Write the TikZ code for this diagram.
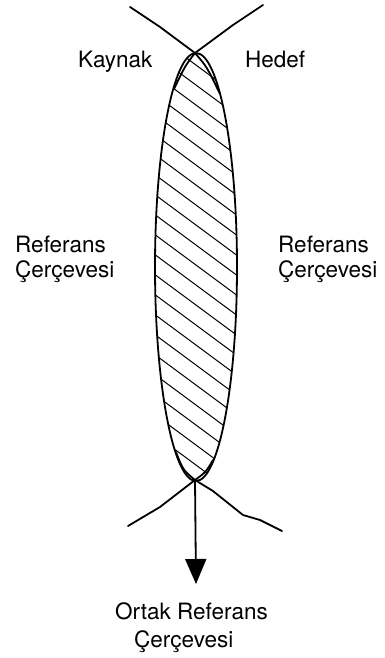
\documentclass[tikz,border=0pt]{standalone}
\usepackage{fontspec}
\setmainfont{TeX Gyre Heros}
\usetikzlibrary{arrows.meta}
\tikzset{
  lbl/.style={anchor=base west, inner sep=0pt, font=\fontsize{22.5}{27}\selectfont},
  edge/.style={line width=1.8pt, line join=round, line cap=round},
  hatch/.style={line width=1pt}
}
\begin{document}
\begin{tikzpicture}[x=1pt,y=-1pt]
\useasboundingbox (0,0) rectangle (385,658);
% key points
\coordinate (top) at (195,53);
\coordinate (bot) at (195,480);
\coordinate (ctr) at (196,267);
\coordinate (tip) at (196,584);
\coordinate (tl) at (130,7);
\coordinate (tr) at (263,5);
\coordinate (bl) at (128,526);
\coordinate (br) at (282,531);
% hatching
\begin{scope}
  \clip (ctr) ellipse [x radius=41, y radius=214];
  \foreach \c in {-140,-120,...,400}
    \draw[hatch] (150,{\c+0.74*150}) -- (245,{\c+0.74*245});
\end{scope}
% ellipse
\draw[edge] (ctr) ellipse [x radius=41, y radius=214];
% doubled pointed edges near the tips
\draw[edge] (top) .. controls (185,66) .. (174,89);
\draw[edge] (top) .. controls (207,67) .. (220,94);
\draw[edge] (bot) .. controls (183,470) .. (176,452);
\draw[edge] (bot) .. controls (206,472) .. (213,460);
% crossing lines
\draw[edge] (tl) -- (160,27) -- (top);
\draw[edge] (tr) -- (233,25) -- (top);
\draw[edge] (bl) -- (160,507) -- (bot);
\draw[edge] (br) -- (260,520) -- (243,515) -- (213,491) -- (bot);
% arrow
\draw[edge, -{Triangle[length=25pt,width=21pt]}] (bot) -- (tip);
% labels
\node[lbl] (kaynak) at (78,68) {Kaynak};
\node[lbl] (hedef) at (245,68) {Hedef};
\node[lbl] (lref1) at (15,252) {Referans};
\node[lbl] (lref2) at (15,277) {Çerçevesi};
\node[lbl] (rref1) at (278,252) {Referans};
\node[lbl] (rref2) at (278,277) {Çerçevesi};
\node[lbl] (ortak1) at (115,619) {Ortak Referans};
\node[lbl] (ortak2) at (134,647) {Çerçevesi};
\end{tikzpicture}
\end{document}
